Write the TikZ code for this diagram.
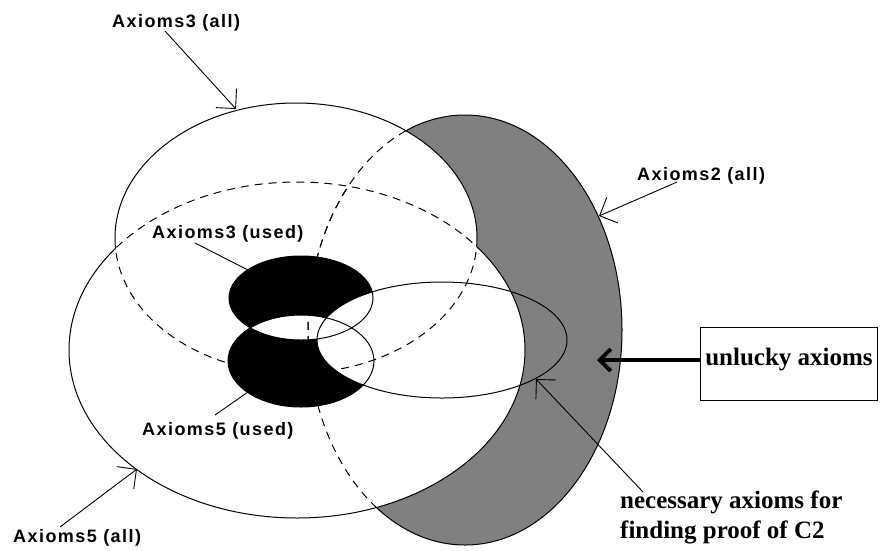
\documentclass[tikz,border=0pt]{standalone}
\usepackage{fontspec}
\usetikzlibrary{arrows.meta}
\newfontfamily\labelsans[LetterSpace=8]{Liberation Sans}
\newfontfamily\labelserif{Liberation Serif}
\definecolor{setgray}{RGB}{128,128,128}

% set outlines (pixel units, y pointing down)
\def\AxThree{(296,238) ellipse [x radius=181, y radius=135]}
\def\AxFive{(297,350) ellipse [x radius=228, y radius=168]}
\def\AxTwo{(465,330) ellipse [x radius=157, y radius=215]}
\def\UsedThree{(301,298) ellipse [x radius=72, y radius=42]}
\def\UsedFive{(301,361) ellipse [x radius=73, y radius=46]}
\def\Needed{(442,340) ellipse [x radius=125, y radius=58]}
\def\Canvas{(0,0) rectangle (880,550)}

\tikzset{
  outline/.style={line width=1pt},
  hiddenline/.style={line width=1pt, dash pattern=on 8pt off 6pt},
  sanslabel/.style={font=\labelsans\bfseries\fontsize{18}{20}\selectfont, inner sep=0pt, anchor=base west},
  seriflabel/.style={font=\labelserif\bfseries\fontsize{25}{30}\selectfont, inner sep=0pt},
  pointer/.style={line width=0.9pt, -{Straight Barb[length=14pt,width=28pt]}},
  plainpointer/.style={line width=0.9pt},
  bigpointer/.style={line width=4pt, -{Straight Barb[length=11pt,width=22pt]}},
  notebox/.style={seriflabel, draw, line width=1pt, minimum width=177pt, minimum height=73pt, text height=17pt, text depth=13pt},
}

\begin{document}
\begin{tikzpicture}[x=1pt, y=-1pt]
\fill[white] \Canvas;

% Axioms2 outside the other two sets is shaded
\fill[setgray] \AxTwo;
\fill[white] \AxThree;
\fill[white] \AxFive;

% Axioms3: solid outside Axioms5, dashed inside it
\begin{scope}[even odd rule]
  \clip \Canvas \AxFive;
  \draw[outline] \AxThree;
\end{scope}
\begin{scope}
  \clip \AxFive;
  \draw[hiddenline] \AxThree;
\end{scope}

% Axioms5: solid outside Axioms3, dashed inside it
\begin{scope}[even odd rule]
  \clip \Canvas \AxThree;
  \draw[outline] \AxFive;
\end{scope}
\begin{scope}
  \clip \AxThree;
  \draw[hiddenline] \AxFive;
\end{scope}

% Axioms2: solid where it is shaded, dashed elsewhere
\begin{scope}[even odd rule]
  \clip \Canvas \AxThree;
  \clip \Canvas \AxFive;
  \draw[outline] \AxTwo;
\end{scope}
\begin{scope}
  \clip \AxThree;
  \draw[hiddenline] \AxTwo;
\end{scope}
\begin{scope}
  \clip \AxFive;
  \draw[hiddenline] \AxTwo;
\end{scope}

% used axioms, blacked out apart from the overlaps
\begin{scope}[even odd rule]
  \clip \UsedThree;
  \clip \Canvas \UsedFive;
  \clip \Canvas \Needed;
  \fill \UsedThree;
\end{scope}
\begin{scope}[even odd rule]
  \clip \UsedFive;
  \clip \Canvas \UsedThree;
  \clip \Canvas \Needed;
  \fill \UsedFive;
\end{scope}
\draw[outline] \UsedThree;
\draw[outline] \UsedFive;
\draw[outline] \Needed;

% labels
\node[sanslabel] (a3all) at (112,27) {Axioms3 (all)};
\node[sanslabel] (a2all) at (637,180) {Axioms2 (all)};
\node[sanslabel] (a3used) at (152,238) {Axioms3 (used)};
\node[sanslabel] (a5used) at (142,435) {Axioms5 (used)};
\node[sanslabel] (a5all) at (13,542) {Axioms5 (all)};
\node[seriflabel, anchor=base west] (need) at (620,508) {necessary axioms for};
\node[seriflabel, anchor=base west] (need2) at (620,538) {finding proof of C2};
\node[notebox] (box) at (789,363.5) {unlucky axioms};

% pointer targets on the outlines
\coordinate (t3all) at (236,109);
\coordinate (t2all) at (599,216);
\coordinate (t3used) at (248,270);
\coordinate (t5used) at (248,392);
\coordinate (t5all) at (137,469);
\coordinate (tneed) at (536,379);
\coordinate (tunlucky) at (597,360);

\draw[pointer] ([shift={(53,4)}]a3all.base west) -- (t3all);
\draw[pointer] ([shift={(40,2)}]a2all.base west) -- (t2all);
\draw[plainpointer] ([shift={(43,5)}]a3used.base west) -- (t3used);
\draw[plainpointer] ([shift={(73,-20)}]a5used.base west) -- (t5used);
\draw[pointer] ([shift={(47,-15)}]a5all.base west) -- (t5all);
\draw[pointer] ([shift={(23,-16)}]need.base west) -- (tneed);
\draw[bigpointer] (box.west |- tunlucky) -- (tunlucky);
\end{tikzpicture}
\end{document}
